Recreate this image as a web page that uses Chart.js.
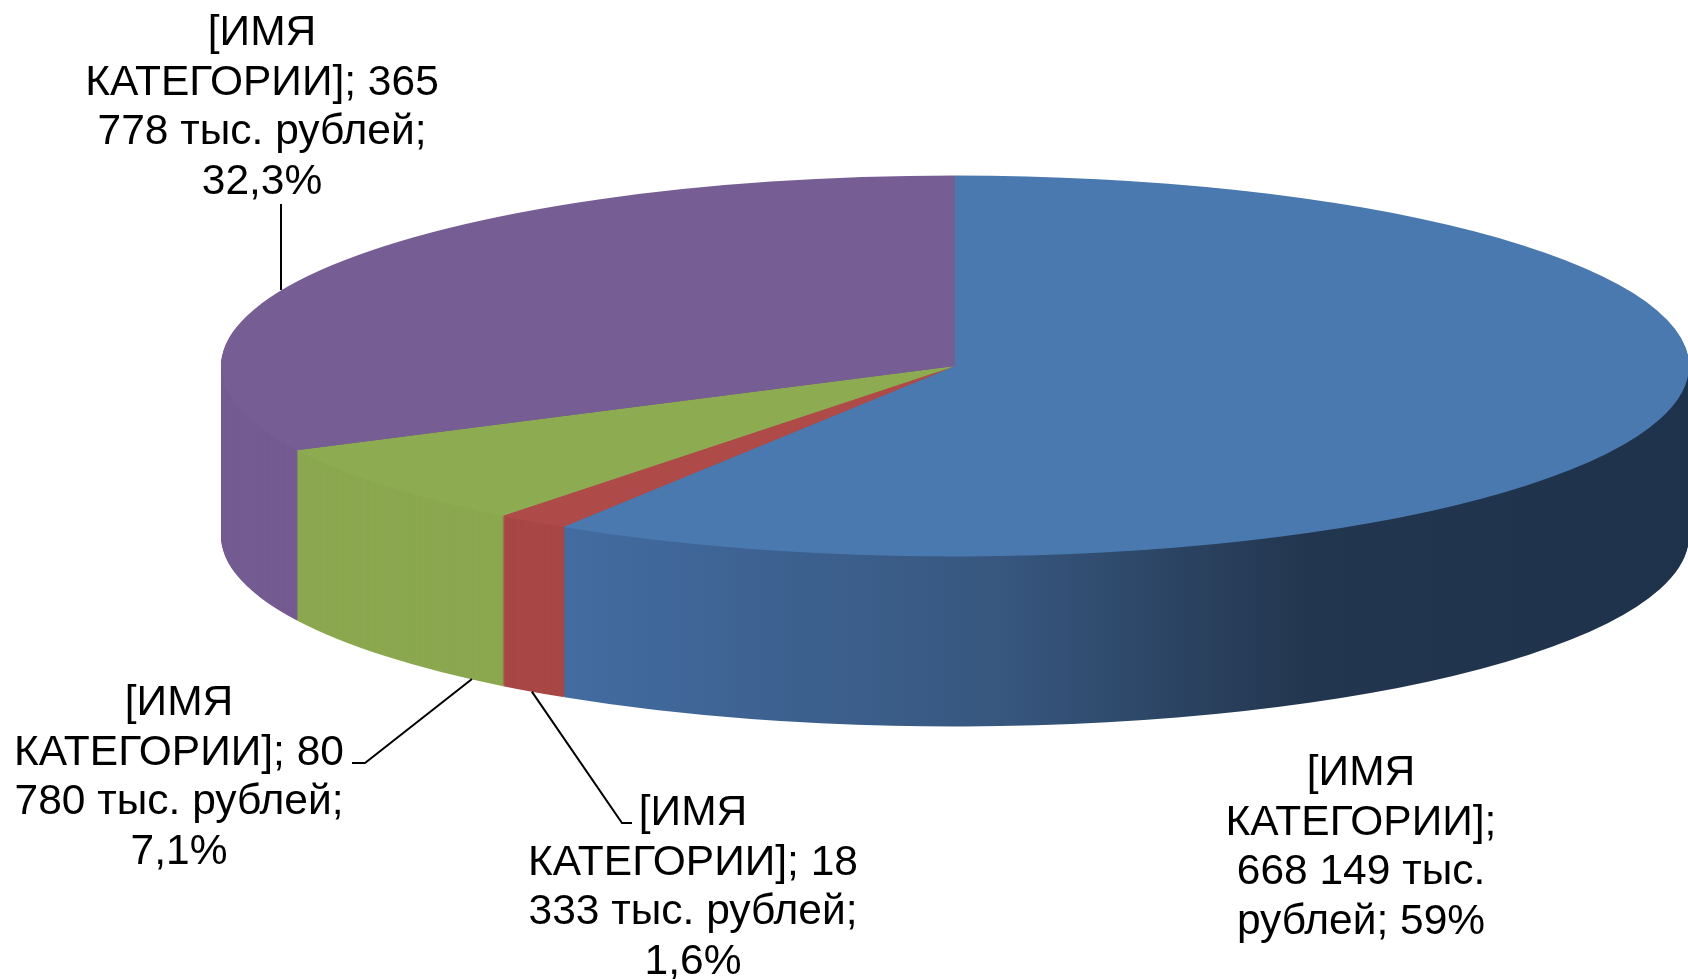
<!DOCTYPE html>
<html>
<head>
<meta charset="utf-8">
<script src="https://cdn.jsdelivr.net/npm/chart.js@4.4.1/dist/chart.umd.min.js"></script>
<style>
  html, body { margin: 0; padding: 0; background: #ffffff; }
  #wrap { width: 1688px; height: 979px; position: relative; }
</style>
</head>
<body>
<div id="wrap"><canvas id="c"></canvas></div>
<script>
// ---- data ----
const categories = ['[ИМЯ КАТЕГОРИИ]', '[ИМЯ КАТЕГОРИИ]', '[ИМЯ КАТЕГОРИИ]', '[ИМЯ КАТЕГОРИИ]'];
const values = [668149, 18333, 80780, 365778];          // тыс. рублей
const percents = [59, 1.6, 7.1, 32.3];
const unit = 'тыс. рублей';

// ---- styles ----
const topColors = ['#4A79B0', '#AE4B48', '#8DAB51', '#765D93'];
const sideColors = [null, '#A84745', '#8BA84F', '#745B91'];

// projection of the flat pie onto the 3D look
const CX = 955, CY = 366, RX = 734, RY = 190.5, DEPTH = 170;

function fmtNum(v) { return String(v).replace(/\B(?=(\d{3})+(?!\d))/g, ' '); }
function fmtPct(p) { return String(p).replace('.', ',') + '%'; }
const labelTexts = categories.map((c, i) => c + '; ' + fmtNum(values[i]) + ' ' + unit + '; ' + fmtPct(percents[i]));

// label placement: centre x, first baseline, wrap width
const labelBoxes = [
  { x: 1361, y: 785, w: 295 },
  { x: 693, y: 825, w: 355 },
  { x: 179, y: 715, w: 355 },
  { x: 262, y: 45, w: 380 }
];
const LINE_H = 49.5;
const FONT = "42.5px 'Liberation Sans', Arial, sans-serif";

const pie3d = {
  id: 'pie3d',
  beforeDatasetDraw(chart, args) {
    const ctx = chart.ctx;
    const arcs = args.meta.data;
    const a0 = arcs[0];
    const R = a0.outerRadius, ox = a0.x, oy = a0.y;
    const project = () => {
      ctx.translate(CX, CY);
      ctx.scale(RX / R, RY / R);
      ctx.translate(-ox, -oy);
    };
    const ux = X => ox + (X - CX) * R / RX;
    const blueSide = ctx.createLinearGradient(ux(560), 0, ux(1688), 0);
    blueSide.addColorStop(0, '#436CA1');
    blueSide.addColorStop(0.39, '#37577F');
    blueSide.addColorStop(0.66, '#23364F');
    blueSide.addColorStop(1, '#1F324B');
    const fills = sideColors.map(c => c || blueSide);
    ctx.save();
    for (let d = DEPTH; d > 0; d -= 1) {
      ctx.save();
      ctx.translate(0, d);
      project();
      arcs.forEach((arc, i) => {
        const saved = arc.options;
        arc.options = Object.assign({}, saved, { backgroundColor: fills[i], borderWidth: 0 });
        arc.draw(ctx);
        arc.options = saved;
      });
      ctx.restore();
    }
    project();
  },
  afterDatasetDraw(chart) {
    chart.ctx.restore();
  },
  afterDraw(chart) {
    const ctx = chart.ctx;
    const arcs = chart.getDatasetMeta(0).data;
    // leader lines
    const redArc = arcs[1];
    const mid = (redArc.startAngle + redArc.endAngle) / 2;
    const redEnd = [CX + RX * Math.cos(mid), CY + RY * Math.sin(mid) + DEPTH];
    ctx.save();
    ctx.strokeStyle = '#000000';
    ctx.lineWidth = 2;
    ctx.beginPath();
    ctx.moveTo(281, 204); ctx.lineTo(281, 290);
    ctx.moveTo(352, 763); ctx.lineTo(365, 763); ctx.lineTo(472, 679);
    ctx.moveTo(redEnd[0], redEnd[1]); ctx.lineTo(622, 823); ctx.lineTo(632, 823);
    ctx.stroke();
    // labels
    ctx.font = FONT;
    ctx.fillStyle = '#000000';
    ctx.textAlign = 'center';
    ctx.textBaseline = 'alphabetic';
    labelTexts.forEach((t, i) => {
      const box = labelBoxes[i];
      const words = t.split(' ');
      const lines = [];
      let cur = '';
      words.forEach(w => {
        const test = cur ? cur + ' ' + w : w;
        if (cur && ctx.measureText(test).width > box.w) { lines.push(cur); cur = w; }
        else cur = test;
      });
      if (cur) lines.push(cur);
      lines.forEach((ln, k) => ctx.fillText(ln, box.x, box.y + k * LINE_H));
    });
    ctx.restore();
  }
};

new Chart(document.getElementById('c'), {
  type: 'pie',
  data: {
    labels: categories,
    datasets: [{
      data: values,
      backgroundColor: topColors,
      borderWidth: 0,
      clip: false
    }]
  },
  options: {
    responsive: true,
    maintainAspectRatio: false,
    animation: false,
    layout: { padding: 0 },
    plugins: { legend: { display: false }, tooltip: { enabled: false } },
    events: []
  },
  plugins: [pie3d]
});
</script>
</body>
</html>
